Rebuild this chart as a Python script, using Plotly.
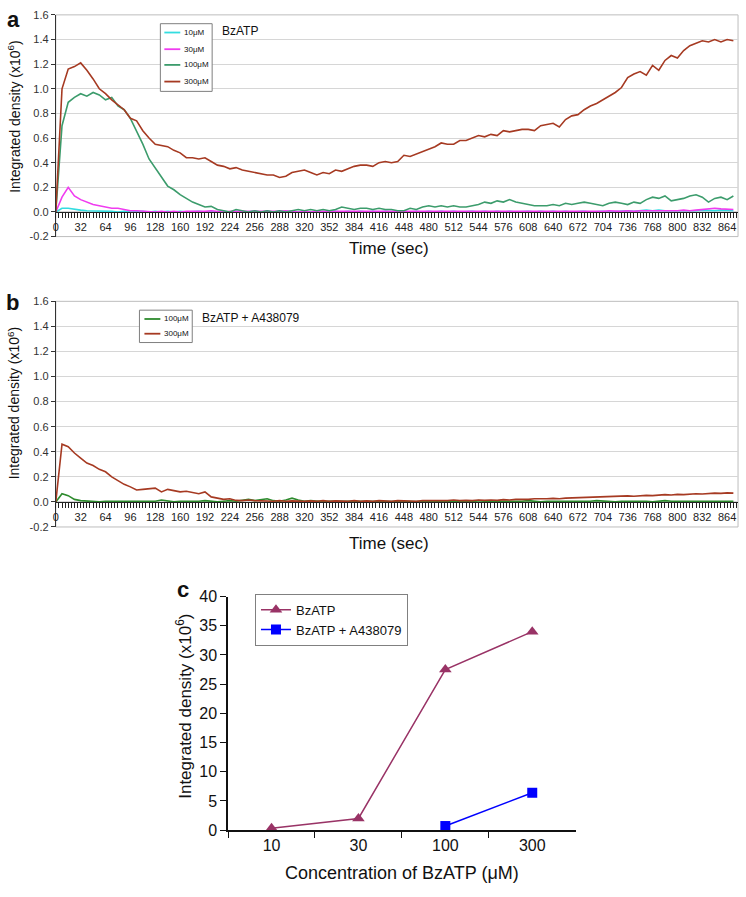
import plotly.graph_objects as go

W, H = 746, 897

# ---------------- data ----------------
sample_step_s = 8

# Panel a: BzATP alone (integrated density, x10^6)
a_10uM = [0.00, 0.03, 0.03, 0.02, 0.015, 0.01, 0.01, 0.005, 0.005, 0.005,
          0.00, 0.005, 0.00, 0.005, 0.005, 0.00, 0.005, 0.00, 0.005, 0.00,
          0.005, 0.00, 0.005, 0.005, 0.00, 0.005, 0.00, 0.005, 0.00, 0.005,
          0.00, 0.005, 0.005, 0.00, 0.005, 0.00, 0.005, 0.00, 0.005, 0.00,
          0.005, 0.00, 0.005, 0.00, 0.005, 0.005, 0.00, 0.005, 0.00, 0.005,
          0.00, 0.005, 0.00, 0.005, 0.00, 0.005, 0.005, 0.00, 0.005, 0.00,
          0.005, 0.00, 0.005, 0.00, 0.005, 0.00, 0.005, 0.005, 0.00, 0.005,
          0.00, 0.005, 0.00, 0.005, 0.00, 0.005, 0.005, 0.00, 0.005, 0.00,
          0.005, 0.00, 0.005, 0.00, 0.005, 0.005, 0.00, 0.005, 0.005, 0.00,
          0.005, 0.005, 0.01, 0.005, 0.01, 0.015, 0.01, 0.015, 0.01, 0.01,
          0.01, 0.005, 0.01, 0.01, 0.015, 0.01, 0.01, 0.015, 0.01, 0.01]
a_30uM = [0.00, 0.12, 0.20, 0.13, 0.10, 0.08, 0.06, 0.05, 0.04, 0.03,
          0.03, 0.02, 0.01, 0.01, 0.005, 0.005, 0.00, 0.005, 0.00, 0.005,
          0.00, 0.005, 0.005, 0.00, 0.005, 0.01, 0.005, 0.00, 0.005, 0.005,
          0.00, 0.005, 0.00, 0.005, 0.005, 0.00, 0.005, 0.01, 0.005, 0.00,
          0.005, 0.00, 0.005, 0.005, 0.00, 0.005, 0.00, 0.005, 0.005, 0.00,
          0.005, 0.00, 0.005, 0.00, 0.005, 0.005, 0.00, 0.005, 0.00, 0.005,
          0.005, 0.00, 0.005, 0.005, 0.00, 0.005, 0.00, 0.005, 0.005, 0.00,
          0.005, 0.005, 0.00, 0.005, 0.00, 0.005, 0.005, 0.00, 0.005, 0.005,
          0.00, 0.005, 0.005, 0.00, 0.005, 0.005, 0.00, 0.005, 0.005, 0.01,
          0.005, 0.005, 0.01, 0.005, 0.01, 0.01, 0.005, 0.01, 0.01, 0.01,
          0.01, 0.015, 0.01, 0.015, 0.02, 0.02, 0.03, 0.025, 0.02, 0.02]
a_100uM = [0.00, 0.70, 0.89, 0.93, 0.96, 0.94, 0.97, 0.95, 0.91, 0.93,
           0.86, 0.83, 0.76, 0.66, 0.55, 0.43, 0.36, 0.29, 0.21, 0.18,
           0.14, 0.11, 0.08, 0.06, 0.04, 0.045, 0.02, 0.01, 0.00, 0.02,
           0.01, 0.00, 0.01, 0.00, 0.01, 0.00, 0.01, 0.00, 0.01, 0.02,
           0.01, 0.02, 0.01, 0.02, 0.01, 0.02, 0.04, 0.03, 0.02, 0.03,
           0.03, 0.02, 0.03, 0.02, 0.02, 0.01, 0.01, 0.03, 0.02, 0.04,
           0.05, 0.04, 0.05, 0.04, 0.05, 0.04, 0.04, 0.05, 0.06, 0.08,
           0.07, 0.09, 0.08, 0.10, 0.08, 0.07, 0.06, 0.05, 0.05, 0.05,
           0.06, 0.05, 0.07, 0.06, 0.07, 0.08, 0.07, 0.06, 0.05, 0.07,
           0.08, 0.07, 0.06, 0.08, 0.07, 0.10, 0.12, 0.11, 0.13, 0.09,
           0.10, 0.11, 0.13, 0.14, 0.12, 0.08, 0.11, 0.12, 0.10, 0.13]
a_300uM = [0.00, 1.00, 1.16, 1.18, 1.21, 1.15, 1.08, 1.00, 0.96, 0.91,
           0.87, 0.83, 0.76, 0.74, 0.66, 0.60, 0.55, 0.54, 0.53, 0.50,
           0.48, 0.44, 0.44, 0.43, 0.44, 0.41, 0.38, 0.37, 0.35, 0.36,
           0.34, 0.33, 0.32, 0.31, 0.30, 0.30, 0.28, 0.29, 0.32, 0.33,
           0.34, 0.32, 0.30, 0.32, 0.31, 0.34, 0.33, 0.35, 0.37, 0.38,
           0.38, 0.37, 0.40, 0.41, 0.40, 0.41, 0.46, 0.45, 0.47, 0.49,
           0.51, 0.53, 0.56, 0.55, 0.55, 0.58, 0.58, 0.60, 0.62, 0.61,
           0.63, 0.62, 0.66, 0.65, 0.66, 0.67, 0.67, 0.66, 0.70, 0.71,
           0.72, 0.69, 0.75, 0.78, 0.79, 0.83, 0.86, 0.88, 0.91, 0.94,
           0.97, 1.01, 1.09, 1.12, 1.14, 1.11, 1.19, 1.15, 1.23, 1.27,
           1.25, 1.31, 1.35, 1.37, 1.39, 1.38, 1.40, 1.38, 1.40, 1.39]

# Panel b: BzATP + A438079
b_100uM = [0.00, 0.065, 0.05, 0.02, 0.01, 0.005, 0.005, 0.00, 0.005, 0.005,
           0.00, 0.005, 0.00, 0.005, 0.005, 0.00, 0.005, 0.015, 0.005, 0.00,
           0.005, 0.005, 0.00, 0.005, 0.01, 0.005, 0.00, 0.005, 0.01, 0.005,
           0.01, 0.02, 0.01, 0.015, 0.025, 0.01, 0.005, 0.015, 0.03, 0.015,
           0.005, 0.01, 0.005, 0.00, 0.005, 0.005, 0.00, 0.005, 0.005, 0.00,
           0.005, 0.00, 0.005, 0.005, 0.00, 0.005, 0.00, 0.005, 0.005, 0.00,
           0.005, 0.005, 0.00, 0.005, 0.00, 0.005, 0.005, 0.00, 0.01, 0.005,
           0.00, 0.005, 0.005, 0.00, 0.005, 0.005, 0.01, 0.005, 0.00, 0.005,
           0.005, 0.00, 0.005, 0.005, 0.00, 0.005, 0.005, 0.01, 0.005, 0.005,
           0.00, 0.005, 0.005, 0.01, 0.005, 0.005, 0.00, 0.005, 0.01, 0.005,
           0.005, 0.01, 0.005, 0.005, 0.01, 0.005, 0.005, 0.01, 0.005, 0.005]
b_300uM = [0.00, 0.46, 0.44, 0.39, 0.35, 0.31, 0.29, 0.26, 0.24, 0.20,
           0.17, 0.14, 0.12, 0.095, 0.10, 0.105, 0.11, 0.08, 0.10, 0.09,
           0.08, 0.085, 0.075, 0.065, 0.08, 0.04, 0.03, 0.02, 0.025, 0.012,
           0.01, 0.015, 0.01, 0.008, 0.01, 0.005, 0.01, 0.005, 0.008, 0.005,
           0.005, 0.008, 0.005, 0.01, 0.005, 0.008, 0.005, 0.005, 0.01, 0.005,
           0.008, 0.005, 0.01, 0.008, 0.005, 0.01, 0.008, 0.01, 0.005, 0.01,
           0.01, 0.008, 0.012, 0.01, 0.015, 0.01, 0.012, 0.01, 0.015, 0.012,
           0.015, 0.012, 0.018, 0.015, 0.02, 0.018, 0.02, 0.025, 0.022, 0.025,
           0.028, 0.025, 0.03, 0.032, 0.03, 0.035, 0.038, 0.035, 0.04, 0.042,
           0.04, 0.045, 0.048, 0.045, 0.05, 0.052, 0.05, 0.055, 0.058, 0.055,
           0.06, 0.058, 0.062, 0.065, 0.063, 0.068, 0.07, 0.068, 0.072, 0.07]

# Panel c: summary
conc_labels = ["10", "30", "100", "300"]
c_bzatp = [0.3, 2.0, 27.5, 34.0]
c_antag_conc = ["100", "300"]
c_antag = [0.7, 6.4]
sig_conc = ["100", "300"]
sig_text = ["***", "***"]

ts_ytickvals = [-0.2, 0.0, 0.2, 0.4, 0.6, 0.8, 1.0, 1.2, 1.4, 1.6]
ts_yticktext = ["-0.2", "0.0", "0.2", "0.4", "0.6", "0.8", "1.0", "1.2", "1.4", "1.6"]

legend_a_names = ["10μM", "30μM", "100μM", "300μM"]
legend_b_names = ["100μM", "300μM"]

# ---------------- styling ----------------
FONT = "Arial, Liberation Sans, Helvetica, sans-serif"
COL = dict(c10="#33DDE0", c30="#F03CF0", c100a="#3C9C6C", c300="#A63A22",
           c100b="#2E8B2E", purple="#993366", blue="#0000FF")


def times_for(vals):
    return [i * sample_step_s for i in range(len(vals))]


def px(x):  # pixel x -> paper fraction
    return x / W


def py(y):  # pixel y -> paper fraction
    return 1 - y / H


def xdom(l, r):
    return [px(l), px(r)]


def ydom(top, bottom):
    return [py(bottom), py(top)]


xa = xdom(53, 738)
ya = ydom(7, 233)
yb = ydom(299, 529)
xc = xdom(226, 575)
yc = ydom(600, 838)
ts_range = [-0.2, 1.6]


def zero_pos(dom):
    return dom[0] + (0 - ts_range[0]) / (ts_range[1] - ts_range[0]) * (dom[1] - dom[0])


fig = go.Figure()

a_series = [a_10uM, a_30uM, a_100uM, a_300uM]
a_cols = [COL["c10"], COL["c30"], COL["c100a"], COL["c300"]]
for name, vals, col in zip(legend_a_names, a_series, a_cols):
    fig.add_trace(go.Scatter(x=times_for(vals), y=vals, mode="lines", name=name,
                             line=dict(color=col, width=1.6), xaxis="x", yaxis="y",
                             showlegend=False))

b_series = [b_100uM, b_300uM]
b_cols = [COL["c100b"], COL["c300"]]
for name, vals, col in zip(legend_b_names, b_series, b_cols):
    fig.add_trace(go.Scatter(x=times_for(vals), y=vals, mode="lines", name=name,
                             line=dict(color=col, width=1.6), xaxis="x2", yaxis="y2",
                             showlegend=False))

fig.add_trace(go.Scatter(x=conc_labels, y=c_bzatp, mode="lines+markers", name="BzATP",
                         line=dict(color=COL["purple"], width=1.5),
                         marker=dict(symbol="triangle-up", size=11, color=COL["purple"]),
                         xaxis="x3", yaxis="y3", cliponaxis=False))
fig.add_trace(go.Scatter(x=c_antag_conc, y=c_antag, mode="lines+markers", name="BzATP + A438079",
                         line=dict(color=COL["blue"], width=1.5),
                         marker=dict(symbol="square", size=10, color=COL["blue"]),
                         xaxis="x3", yaxis="y3", cliponaxis=False))


def time_axis(dom, ypos):
    return dict(domain=dom, anchor="free", position=ypos, range=[0, 878],
                showline=True, linecolor="#222", linewidth=1,
                ticks="outside", ticklen=5, tickcolor="#222", tickwidth=1,
                tickmode="linear", tick0=0, dtick=32,
                tickfont=dict(size=11, color="#222", family=FONT),
                showgrid=False, zeroline=False,
                minor=dict(dtick=4, tick0=0, ticks="outside", ticklen=5,
                           tickcolor="#222", tickwidth=1, showgrid=False))


def ts_yaxis(dom, anchor):
    return dict(domain=dom, anchor=anchor, range=ts_range,
                tickmode="array", tickvals=ts_ytickvals, ticktext=ts_yticktext,
                showgrid=True, gridcolor="#D6D6D6", gridwidth=1,
                showline=True, linecolor="#333", linewidth=1,
                ticks="outside", ticklen=4, tickcolor="#333",
                zeroline=False, tickfont=dict(size=11, color="#333", family=FONT))


fig.update_layout(
    width=W, height=H, margin=dict(l=0, r=0, t=0, b=0),
    paper_bgcolor="white", plot_bgcolor="white",
    font=dict(family=FONT, color="#111"),
    xaxis=time_axis(xa, zero_pos(ya)),
    yaxis=ts_yaxis(ya, "x"),
    xaxis2=time_axis(xa, zero_pos(yb)),
    yaxis2=ts_yaxis(yb, "x2"),
    xaxis3=dict(domain=xc, anchor="y3", type="category", categoryorder="array",
                categoryarray=conc_labels, range=[-0.5, 3.5],
                showline=True, linecolor="#111", linewidth=1.5,
                ticks="outside", tickson="boundaries", ticklen=6, tickcolor="#111",
                tickfont=dict(size=16, color="#111", family=FONT),
                showgrid=False, zeroline=False),
    yaxis3=dict(domain=yc, anchor="x3", range=[0, 40], tickmode="linear", tick0=0, dtick=5,
                showline=True, linecolor="#111", linewidth=1.5,
                ticks="outside", ticklen=6, tickcolor="#111",
                tickfont=dict(size=16, color="#111", family=FONT),
                showgrid=False, zeroline=False),
    legend=dict(x=px(253), y=py(597), xanchor="left", yanchor="top", bgcolor="white",
                bordercolor="#808080", borderwidth=1, itemwidth=30, tracegroupgap=0,
                font=dict(size=13, family=FONT, color="#111")),
    showlegend=True,
)

shapes = []
# plot-area borders for the time-course panels
for xr, yr in [("x domain", "y domain"), ("x2 domain", "y2 domain")]:
    shapes.append(dict(type="rect", xref=xr, yref=yr, x0=0, x1=1, y0=0, y1=1,
                       line=dict(color="#BDBDBD", width=1), layer="below"))

ann = []


def txt(x, y, text, size, bold=False, angle=0, xanchor="center", yanchor="middle"):
    ann.append(dict(x=px(x), y=py(y), xref="paper", yref="paper", text=text,
                    showarrow=False, textangle=angle, xanchor=xanchor, yanchor=yanchor,
                    font=dict(size=size, family=FONT, color="#111",
                              weight="bold" if bold else "normal")))


# small boxed keys for panels a and b (line swatch + label)
def key_box(box, rows_y, names, cols, x_line, x_text, size):
    l, t, r, b = box
    shapes.append(dict(type="rect", xref="paper", yref="paper",
                       x0=px(l), x1=px(r), y0=py(b), y1=py(t),
                       line=dict(color="#7F7F7F", width=1), fillcolor="white", layer="above"))
    for yy, nm, cc in zip(rows_y, names, cols):
        shapes.append(dict(type="line", xref="paper", yref="paper",
                           x0=px(x_line[0]), x1=px(x_line[1]), y0=py(yy), y1=py(yy),
                           line=dict(color=cc, width=1.8), layer="above"))
        txt(x_text, yy, nm, size, xanchor="left")


key_box((158, 16, 210, 85), [25, 42, 58, 75], legend_a_names, a_cols, (162, 178), 180, 8)
key_box((137, 308, 190, 341), [317, 332], legend_b_names, b_cols, (142, 158), 160, 8)

ytitle = "Integrated density (x10<sup>6</sup>)"
txt(11, 12, "a", 22, bold=True)
txt(10, 300, "b", 22, bold=True)
txt(181, 593, "c", 22, bold=True)
txt(11, 110, ytitle, 14, angle=-90)
txt(11, 402, ytitle, 14, angle=-90)
txt(181, 712, ytitle, 17, angle=-90)
txt(388, 245, "Time (sec)", 17)
txt(388, 546, "Time (sec)", 17)
txt(401, 882, "Concentration of BzATP (μM)", 18)
txt(218, 23, "BzATP", 12, xanchor="left")
txt(198, 316, "BzATP + A438079", 12, xanchor="left")

sig_y = [c_bzatp[conc_labels.index(c)] for c in sig_conc]
for c, yv, t in zip(sig_conc, sig_y, sig_text):
    ann.append(dict(x=c, y=yv, xref="x3", yref="y3", text=t, showarrow=False,
                    yanchor="bottom", yshift=5, font=dict(size=15, family=FONT, color="#111")))

fig.update_layout(shapes=shapes, annotations=ann)

# the page's default 8px body margin would push the 746x897 figure off the window
fig.write_html("out.html", config={"displayModeBar": False},
               post_script="document.body.style.margin='0px';document.body.style.overflow='hidden';")
